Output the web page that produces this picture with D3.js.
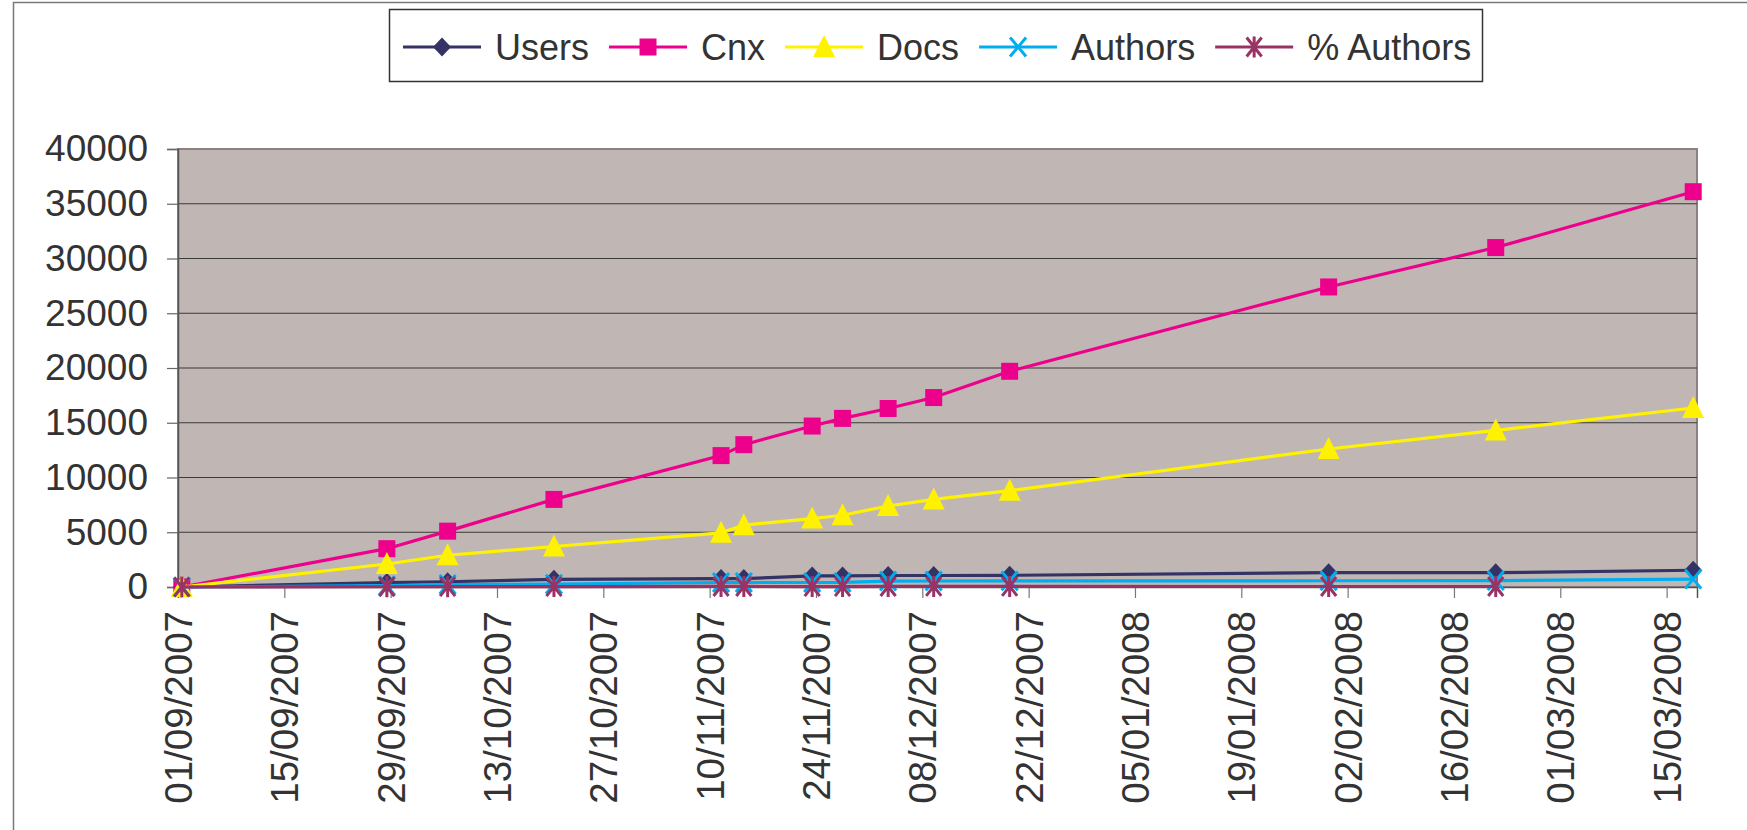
<!DOCTYPE html>
<html>
<head>
<meta charset="utf-8">
<script src="https://cdn.jsdelivr.net/npm/d3@7"></script>
<style>
  body { margin: 0; background: #fff; }
  svg { display: block; }
  text { font-family: "Liberation Sans", Arial, sans-serif; fill: #333; }
</style>
</head>
<body>
<svg width="1747" height="830"></svg>
<script>
// sample dates, dd/mm/yyyy
const dates = ["01/09/2007", "28/09/2007", "06/10/2007", "20/10/2007", "11/11/2007", "14/11/2007",
  "23/11/2007", "27/11/2007", "03/12/2007", "09/12/2007", "19/12/2007", "30/01/2008",
  "21/02/2008", "18/03/2008"];

// series values
const users   = [0, 400, 480, 700, 770, 770, 1010, 1010, 1050, 1050, 1070, 1310, 1310, 1530];
const cnx     = [0, 3500, 5100, 8000, 12000, 13000, 14700, 15400, 16300, 17300, 19700, 27400, 31000, 36100];
const docs    = [0, 2100, 2900, 3700, 4950, 5650, 6250, 6550, 7400, 8000, 8800, 12600, 14300, 16350];
const authors = [0, 120, 220, 260, 410, 410, 410, 420, 540, 550, 560, 570, 580, 720];
const pctAuthors = [0, 25, 30, 35, 50, 50, 40, 40, 50, 52, 51, 44, 44, null];

const seriesNames = ["Users", "Cnx", "Docs", "Authors", "% Authors"];

// axis tick labels
const xTickLabels = ["01/09/2007", "15/09/2007", "29/09/2007", "13/10/2007", "27/10/2007",
  "10/11/2007", "24/11/2007", "08/12/2007", "22/12/2007", "05/01/2008", "19/01/2008",
  "02/02/2008", "16/02/2008", "01/03/2008", "15/03/2008"];
const yTicks = [0, 5000, 10000, 15000, 20000, 25000, 30000, 35000, 40000];
const xEnd = "19/03/2008";

const parseDate = d3.timeParse("%d/%m/%Y");
const fmtDate = d3.timeFormat("%d/%m/%Y");

var svg = d3.select('svg');
var svgWidth = +svg.attr('width');
var svgHeight = +svg.attr('height');

// plot area
var plot = { l: 178, t: 149, r: 1697, b: 587 };

// outer chart frame
svg.append('rect')
  .attr('x', 13.5).attr('y', 2.5)
  .attr('width', svgWidth + 20).attr('height', svgHeight + 20)
  .attr('fill', 'none')
  .attr('stroke', '#7a7a7a')
  .attr('stroke-width', 1.5);

var x = d3.scaleTime()
  .domain([parseDate(xTickLabels[0]), parseDate(xEnd)])
  .range([plot.l, plot.r]);

var y = d3.scaleLinear()
  .domain([0, 40000])
  .range([plot.b, plot.t]);

// background of the plot area
svg.append('rect')
  .attr('x', plot.l).attr('y', plot.t)
  .attr('width', plot.r - plot.l).attr('height', plot.b - plot.t)
  .attr('fill', '#c0b7b4')
  .attr('stroke', '#8c8282')
  .attr('stroke-width', 2);

// gridlines
svg.append('g')
  .selectAll('line')
  .data(yTicks.slice(1, -1))
  .enter()
  .append('line')
  .attr('x1', plot.l).attr('x2', plot.r)
  .attr('y1', d => y(d)).attr('y2', d => y(d))
  .attr('stroke', '#3a3a3a')
  .attr('stroke-width', 1.2);

// y axis
var yAxis = d3.axisLeft(y)
  .tickValues(yTicks)
  .tickSize(11)
  .tickPadding(19)
  .tickFormat(d3.format('d'));

var yG = svg.append('g')
  .attr('transform', `translate(${plot.l}, 0)`)
  .call(yAxis);
yG.select('.domain').attr('stroke', '#555').attr('stroke-width', 1.5);
yG.selectAll('.tick line').attr('stroke', '#666').attr('stroke-width', 1.2);
yG.selectAll('text').style('font-size', '37px').attr('fill', '#333');

// x axis
var xAxis = d3.axisBottom(x)
  .tickValues(xTickLabels.map(parseDate))
  .tickSize(11)
  .tickFormat(fmtDate);

var xG = svg.append('g')
  .attr('transform', `translate(0, ${plot.b})`)
  .call(xAxis);
xG.select('.domain').attr('stroke', '#555').attr('stroke-width', 1.5);
xG.selectAll('.tick line').attr('stroke', '#777').attr('stroke-width', 1.2);
xG.selectAll('text')
  .attr('transform', 'rotate(-90)')
  .attr('x', -24)
  .attr('y', 0)
  .attr('dy', '0.35em')
  .style('text-anchor', 'end')
  .style('font-size', '38.5px')
  .attr('fill', '#333');

// marker shapes
function markerPath(type) {
  if (type === 'diamond') return 'M0,-9.5L9,0L0,9.5L-9,0Z';
  if (type === 'square') return 'M-8.5,-8.5H8.5V8.5H-8.5Z';
  if (type === 'triangle') return 'M0,-12L11,10H-11Z';
  if (type === 'x') return 'M-8,-9.5L8,9.5M8,-9.5L-8,9.5';
  return 'M-7.5,-9.5L7.5,9.5M7.5,-9.5L-7.5,9.5M0,-10.5V10.5';
}

var series = [
  { name: seriesNames[0], values: users,   color: '#333366', marker: 'diamond',  filled: true },
  { name: seriesNames[1], values: cnx,     color: '#ec008c', marker: 'square',   filled: true },
  { name: seriesNames[2], values: docs,    color: '#fff200', marker: 'triangle', filled: true },
  { name: seriesNames[3], values: authors, color: '#00aeef', marker: 'x',        filled: false },
  { name: seriesNames[4], values: pctAuthors, color: '#993366', marker: 'asterisk', filled: false }
];

// point a half day in, like the original's day slots
function xPos(s) { return x(d3.timeHour.offset(parseDate(s), 12)); }

var line = d3.line()
  .defined(d => d.v !== null)
  .x(d => xPos(d.date))
  .y(d => y(d.v));

var chartG = svg.append('g');

series.forEach(function(s) {
  var pts = dates.map((d, i) => ({ date: d, v: s.values[i] }));
  var g = chartG.append('g');
  g.append('path')
    .datum(pts)
    .attr('d', line)
    .attr('fill', 'none')
    .attr('stroke', s.color)
    .attr('stroke-width', 3.2);
  g.selectAll('path.mark')
    .data(pts.filter(p => p.v !== null))
    .enter()
    .append('path')
    .attr('class', 'mark')
    .attr('transform', p => `translate(${xPos(p.date)},${y(p.v)})`)
    .attr('d', markerPath(s.marker))
    .attr('fill', s.filled ? s.color : 'none')
    .attr('stroke', s.color)
    .attr('stroke-width', s.filled ? 0 : 3);
});

// legend
var legend = svg.append('g');
legend.append('rect')
  .attr('x', 389.5).attr('y', 9.5)
  .attr('width', 1093).attr('height', 72)
  .attr('fill', '#fff')
  .attr('stroke', '#333')
  .attr('stroke-width', 1.5);

var lx = 403;
var ly = 47;
series.forEach(function(s) {
  var item = legend.append('g');
  item.append('line')
    .attr('x1', lx).attr('x2', lx + 78)
    .attr('y1', ly).attr('y2', ly)
    .attr('stroke', s.color)
    .attr('stroke-width', 3.2);
  item.append('path')
    .attr('transform', `translate(${lx + 39},${ly})`)
    .attr('d', markerPath(s.marker))
    .attr('fill', s.filled ? s.color : 'none')
    .attr('stroke', s.color)
    .attr('stroke-width', s.filled ? 0 : 3);
  var t = item.append('text')
    .attr('x', lx + 92)
    .attr('y', ly)
    .attr('dy', '0.36em')
    .style('font-size', '36px')
    .text(s.name);
  lx += 92 + t.node().getComputedTextLength() + 20;
});
</script>
</body>
</html>
